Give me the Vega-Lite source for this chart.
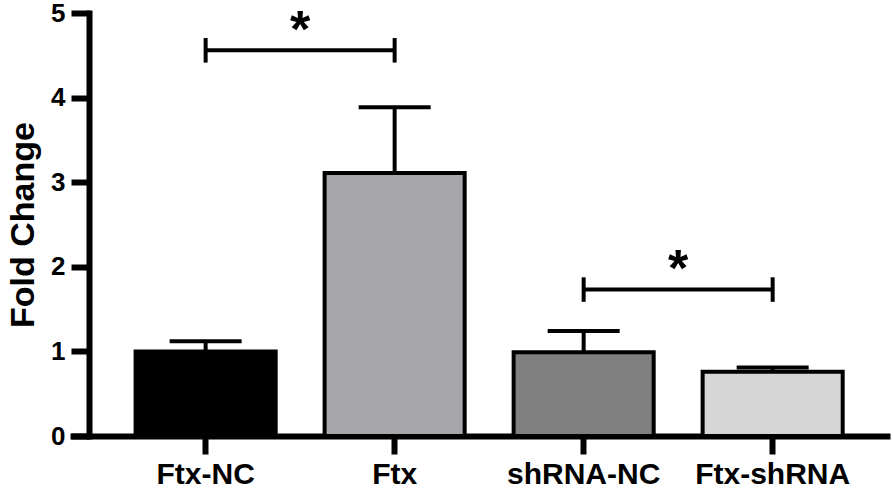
{
  "$schema": "https://vega.github.io/schema/vega-lite/v6.json",
  "width": 820,
  "height": 423,
  "autosize": {"type": "none"},
  "padding": {"left": 70, "top": 13, "right": 3, "bottom": 54},
  "background": "white",
  "config": {
    "view": {"stroke": null},
    "font": "Liberation Sans",
    "axis": {"zindex": 1, "grid": false, "domainColor": "black", "tickColor": "black", "labelColor": "black", "titleColor": "black"}
  },
  "datasets": {
    "bars": [
      {"group": "Ftx-NC", "value": 1.0, "upper": 1.12, "color": "#000000"},
      {"group": "Ftx", "value": 3.11, "upper": 3.885, "color": "#a5a5aa"},
      {"group": "shRNA-NC", "value": 0.99, "upper": 1.24, "color": "#808080"},
      {"group": "Ftx-shRNA", "value": 0.76, "upper": 0.81, "color": "#d6d6d6"}
    ],
    "brackets": [
      {"left": "Ftx-NC", "right": "Ftx", "y": 4.559, "star": 4.6},
      {"left": "shRNA-NC", "right": "Ftx-shRNA", "y": 1.731, "star": 1.77}
    ],
    "ends": [
      {"group": "Ftx-NC", "lo": 4.414, "hi": 4.704},
      {"group": "Ftx", "lo": 4.414, "hi": 4.704},
      {"group": "shRNA-NC", "lo": 1.586, "hi": 1.876},
      {"group": "Ftx-shRNA", "lo": 1.586, "hi": 1.876}
    ]
  },
  "encoding": {
    "x": {
      "field": "group",
      "type": "nominal",
      "scale": {"domain": ["Ftx-NC", "Ftx", "shRNA-NC", "Ftx-shRNA"], "paddingInner": 0.259, "paddingOuter": 0.2987, "align": 0.581},
      "axis": {"title": null, "labelAngle": 0, "labelFontSize": 30, "labelFontWeight": "bold", "tickSize": 18, "tickWidth": 6, "domainWidth": 6, "labelPadding": 5}
    }
  },
  "layer": [
    {
      "data": {"name": "bars"},
      "mark": {"type": "bar", "stroke": "black", "strokeWidth": 4},
      "encoding": {
        "y": {
          "field": "value",
          "type": "quantitative",
          "scale": {"domain": [0, 5], "nice": false},
          "axis": {"title": "Fold Change", "values": [0, 1, 2, 3, 4, 5], "format": "d", "titleFontSize": 34, "titleFontWeight": "bold", "titlePadding": 10, "labelFontSize": 26, "labelFontWeight": "bold", "tickSize": 18, "tickWidth": 6, "domainWidth": 6, "labelPadding": 6, "offset": -19, "domainCap": "square"}
        },
        "fill": {"field": "color", "type": "nominal", "scale": null}
      }
    },
    {
      "data": {"name": "bars"},
      "mark": {"type": "rule", "color": "black", "strokeWidth": 4},
      "encoding": {
        "y": {"field": "value", "type": "quantitative"},
        "y2": {"field": "upper"}
      }
    },
    {
      "data": {"name": "bars"},
      "mark": {"type": "tick", "color": "black", "thickness": 4, "size": 72, "opacity": 1},
      "encoding": {
        "y": {"field": "upper", "type": "quantitative"}
      }
    },
    {
      "data": {"name": "brackets"},
      "mark": {"type": "rule", "color": "black", "strokeWidth": 4},
      "encoding": {
        "x": {"field": "left", "type": "nominal"},
        "x2": {"field": "right"},
        "y": {"field": "y", "type": "quantitative"}
      }
    },
    {
      "data": {"name": "ends"},
      "mark": {"type": "rule", "color": "black", "strokeWidth": 4},
      "encoding": {
        "y": {"field": "lo", "type": "quantitative"},
        "y2": {"field": "hi"}
      }
    },
    {
      "data": {"name": "brackets"},
      "mark": {"type": "text", "text": "*", "fontSize": 52, "fontWeight": "bold", "baseline": "alphabetic", "align": "center", "color": "black"},
      "encoding": {
        "x": {"field": "left", "type": "nominal", "bandPosition": 1.175},
        "y": {"field": "star", "type": "quantitative"}
      }
    }
  ]
}
